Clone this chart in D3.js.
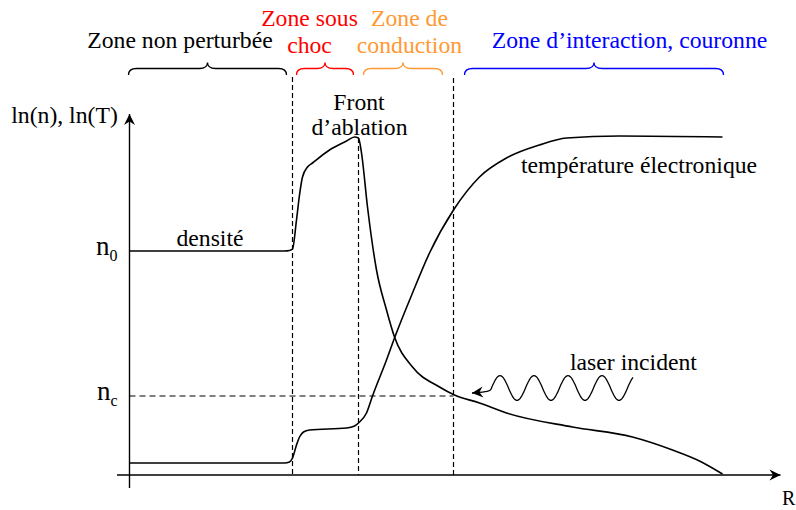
<!DOCTYPE html>
<html>
<head>
<meta charset="utf-8">
<script src="https://cdn.jsdelivr.net/npm/d3@7"></script>
<style>
  html, body { margin: 0; padding: 0; background: #fff; }
  svg text { font-family: "Liberation Serif", "Times New Roman", Times, serif; }
</style>
</head>
<body>
<svg id="chart" width="796" height="510"></svg>
<script>
// Profile along the radius R: ln(n) (density) and ln(T) (electron temperature)
const density = [
  [0, 224], [155, 224], [160, 224.5], [163, 226], [167, 255], [170, 280], [173, 298],
  [178, 308], [183, 312], [200, 325], [217, 334], [225, 338], [229, 337], [232, 322],
  [238, 268], [247, 205], [257, 165], [265, 138], [283, 108], [310, 88], [325, 80],
  [350, 72], [377, 62], [443, 48], [503, 38], [543, 25], [570, 14], [593, 1]
];
const temperature = [
  [0, 12], [155, 12], [160, 13], [163, 17], [167, 30], [170, 38], [174, 43], [180, 45],
  [217, 47], [225, 49], [229, 52], [237, 62], [243, 79], [257, 115], [265, 137],
  [283, 182], [300, 222], [324, 265], [350, 298], [377, 317], [410, 330], [437, 337],
  [490, 339], [593, 338]
];

// Reference levels on the ln(n) axis
const levels = [
  { name: "0", value: 224 },
  { name: "c", value: 79 }
];

// Zone boundaries (R) and the top of each dashed separator
const boundaries = [
  { r: 163, top: 398 },
  { r: 229, top: 337 },
  { r: 324, top: 397 }
];

// Zones shown above the plot with a brace each (extent in R)
const zones = [
  { lines: ["Zone non perturbée"], from: -1, to: 157, color: "#000000" },
  { lines: ["Zone sous", "choc"], from: 167, to: 224, color: "#ff0000" },
  { lines: ["Zone de", "conduction"], from: 234, to: 313, color: "#ff9933" },
  { lines: ["Zone d\u2019interaction, couronne"], from: 335, to: 594, color: "#0000ff" }
];

const FONT = "'Liberation Serif', 'Times New Roman', Times, serif";
const FS = 23.7;

// Layout of the zone titles: centre x and baselines of each line
const zoneTitleLayout = [
  { cx: 180, base: [48] },
  { cx: 309.5, base: [26, 53] },
  { cx: 409.5, base: [26, 53] },
  { cx: 629.5, base: [48] }
];

const svg = d3.select("#chart");
const x = d3.scaleLinear().domain([0, 650]).range([129.5, 779.5]);
const y = d3.scaleLinear().domain([0, 350]).range([475, 125]);

const line = d3.line().x(d => x(d[0])).y(d => y(d[1])).curve(d3.curveMonotoneX);

// Arrowhead marker
const defs = svg.append("defs");
defs.append("marker")
  .attr("id", "arrow")
  .attr("viewBox", "-12 -6 13 12")
  .attr("refX", 0).attr("refY", 0)
  .attr("markerWidth", 13).attr("markerHeight", 12)
  .attr("markerUnits", "userSpaceOnUse")
  .attr("orient", "auto")
  .append("path")
  .attr("d", "M0,0 L-11,-5.5 L-7.5,0 L-11,5.5 Z")
  .attr("fill", "#000");

// Dashed separators
svg.append("g").selectAll("line").data(boundaries).join("line")
  .attr("x1", d => x(d.r)).attr("x2", d => x(d.r))
  .attr("y1", d => y(d.top)).attr("y2", y(0))
  .attr("stroke", "#000").attr("stroke-width", 1.2)
  .attr("stroke-dasharray", "5,3");

// Critical density level
svg.append("line")
  .attr("x1", x(0)).attr("x2", x(boundaries[2].r))
  .attr("y1", y(levels[1].value)).attr("y2", y(levels[1].value))
  .attr("stroke", "#000").attr("stroke-width", 1.2)
  .attr("stroke-dasharray", "6,4");

// Axes
svg.append("line")
  .attr("x1", x(-12.5)).attr("x2", x(651))
  .attr("y1", y(0)).attr("y2", y(0))
  .attr("stroke", "#000").attr("stroke-width", 1.4)
  .attr("marker-end", "url(#arrow)");
svg.append("line")
  .attr("x1", x(0)).attr("x2", x(0))
  .attr("y1", y(-13)).attr("y2", y(361))
  .attr("stroke", "#000").attr("stroke-width", 1.4)
  .attr("marker-end", "url(#arrow)");

const yAxis = svg.append("g")
  .attr("transform", `translate(${x(0)},0)`)
  .call(d3.axisLeft(y).tickValues(levels.map(d => d.value)).tickSize(0).tickPadding(12).tickFormat(""));
yAxis.attr("font-family", FONT);
yAxis.select(".domain").remove();
yAxis.selectAll(".tick text")
  .data(levels)
  .attr("font-family", FONT)
  .attr("fill", "#000")
  .attr("dy", "0.32em")
  .each(function (d) {
    const t = d3.select(this).text(null);
    t.append("tspan").attr("font-size", 27).text("n");
    t.append("tspan").attr("font-size", 16).attr("dy", 6).text(d.name);
  });

// Curves
svg.append("path").datum(density)
  .attr("d", line).attr("fill", "none")
  .attr("stroke", "#000").attr("stroke-width", 1.6);
svg.append("path").datum(temperature)
  .attr("d", line).attr("fill", "none")
  .attr("stroke", "#000").attr("stroke-width", 1.6);

// Zone braces and titles
function brace(x1, x2, yEnd, yMid, yTip) {
  const xm = (x1 + x2) / 2, r = 8;
  return `M${x1},${yEnd} Q${x1},${yMid} ${x1 + r},${yMid} L${xm - r},${yMid} ` +
         `Q${xm},${yMid} ${xm},${yTip} Q${xm},${yMid} ${xm + r},${yMid} ` +
         `L${x2 - r},${yMid} Q${x2},${yMid} ${x2},${yEnd}`;
}
const zg = svg.append("g").selectAll("g").data(zones).join("g");
zg.append("path")
  .attr("d", d => brace(x(d.from), x(d.to), 75, 68.5, 62.5))
  .attr("fill", "none").attr("stroke", d => d.color).attr("stroke-width", 1.3);
zg.each(function (d, i) {
  const g = d3.select(this);
  const lay = zoneTitleLayout[i];
  d.lines.forEach((txt, j) => {
    g.append("text")
      .attr("x", lay.cx).attr("y", lay.base[j])
      .attr("text-anchor", "middle")
      .attr("font-family", FONT)
      .attr("font-size", FS).attr("fill", d.color)
      .text(txt);
  });
});

// Annotations
const labels = [
  { text: "ln(n), ln(T)", x: 64.5, y: 123, anchor: "middle" },
  { text: "Front", x: 359, y: 110, anchor: "middle" },
  { text: "d\u2019ablation", x: 359.5, y: 135, anchor: "middle" },
  { text: "densité", x: 210, y: 246, anchor: "middle" },
  { text: "température électronique", x: 521, y: 173, anchor: "start" },
  { text: "laser incident", x: 633.5, y: 370, anchor: "middle" },
  { text: "R", x: 782, y: 505, anchor: "start" }
];
svg.append("g").selectAll("text").data(labels).join("text")
  .attr("x", d => d.x).attr("y", d => d.y)
  .attr("text-anchor", d => d.anchor)
  .attr("font-family", FONT)
  .attr("font-size", d => d.text === "R" ? 20 : FS)
  .attr("fill", "#000")
  .text(d => d.text);

// Incoming laser: wavy arrow ending at the critical surface
const wave = d3.range(633, 489, -1).map(px => [px, 388 - 12.5 * Math.cos(2 * Math.PI * (px - 602) / 34)]);
wave.push([472, 393]);
svg.append("path")
  .attr("d", d3.line().curve(d3.curveBasis)(wave))
  .attr("fill", "none").attr("stroke", "#000").attr("stroke-width", 1.3)
  .attr("marker-end", "url(#arrow)");
</script>
</body>
</html>
